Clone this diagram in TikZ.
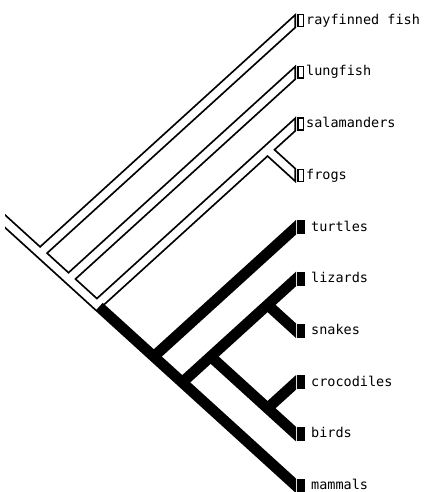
\documentclass[tikz,border=0pt]{standalone}
\usepackage{fontspec}
\newfontfamily\labelfont{DejaVu Sans Mono}
\begin{document}
\begin{tikzpicture}[x=1pt,y=-1pt,
  hout/.style={line width=11pt, black},
  hin/.style={line width=7.4pt, white},
  solidbr/.style={line width=10.8pt, black},
  hbox/.style={draw, line width=1.4pt, minimum width=5.4pt, minimum height=11.8pt, inner sep=0pt},
  fbox/.style={fill, minimum width=8pt, minimum height=14pt, inner sep=0pt},
  lab/.style={anchor=base west, inner sep=0pt, font=\labelfont\fontsize{13.5}{16}\selectfont}
]
\useasboundingbox (0,0) rectangle (431,492);
% tree nodes
\coordinate (st) at (0,216.7);
\coordinate (R) at (40.1,253.15);
\coordinate (A) at (68.5,279.0);
\coordinate (T) at (96.9,304.85);
\coordinate (Tb) at (99.1,306.85);
\coordinate (Am) at (267.56,149.75);
\coordinate (Amn) at (153.8,356.55);
\coordinate (X) at (182.25,382.4);
\coordinate (D) at (210.7,356.55);
\coordinate (L) at (267.56,304.85);
\coordinate (Ar) at (267.56,408.25);
% tips
\coordinate (t0) at (296,20.5);
\coordinate (t1) at (296,72.2);
\coordinate (t2) at (296,123.9);
\coordinate (t3) at (296,175.6);
\coordinate (t4) at (296,227.3);
\coordinate (t5) at (296,279.0);
\coordinate (t6) at (296,330.7);
\coordinate (t7) at (296,382.4);
\coordinate (t8) at (296,434.1);
\coordinate (t9) at (296,485.8);
% hollow branches: outline
\begin{scope}
\clip (5,0) rectangle (296,492);
\draw[hout] (st) -- (R) -- (A) -- (Tb);
\draw[hout, shorten >=-6pt] (R) -- (t0);
\draw[hout, shorten >=-6pt] (A) -- (t1);
\draw[hout, shorten >=-6pt] (T) -- (Am) -- (t2);
\draw[hout, shorten >=-6pt] (Am) -- (t3);
\end{scope}
% hollow branches: interior
\begin{scope}
\clip (5,0) rectangle (294.3,492);
\draw[hin] (st) -- (R) -- (A) -- (Tb);
\draw[hin, shorten >=-6pt] (R) -- (t0);
\draw[hin, shorten >=-6pt] (A) -- (t1);
\draw[hin, shorten >=-6pt] (T) -- (Am) -- (t2);
\draw[hin, shorten >=-6pt] (Am) -- (t3);
\end{scope}
% black branches
\begin{scope}
\clip (0,0) rectangle (296,492);
\draw[solidbr, shorten >=-6pt] (Tb) -- (Amn) -- (X) -- (t9);
\draw[solidbr, shorten >=-6pt] (Amn) -- (t4);
\draw[solidbr, shorten >=-6pt] (X) -- (D) -- (L) -- (t5);
\draw[solidbr, shorten >=-6pt] (L) -- (t6);
\draw[solidbr, shorten >=-6pt] (D) -- (Ar) -- (t8);
\draw[solidbr, shorten >=-6pt] (Ar) -- (t7);
\end{scope}
% tip boxes
\node[hbox] (b0) at (300.8,20.5) {};
\node[hbox] (b1) at (300.8,72.2) {};
\node[hbox] (b2) at (300.8,123.9) {};
\node[hbox] (b3) at (300.8,175.6) {};
\node[fbox] (b4) at (301,227.3) {};
\node[fbox] (b5) at (301,279.0) {};
\node[fbox] (b6) at (301,330.7) {};
\node[fbox] (b7) at (301,382.4) {};
\node[fbox] (b8) at (301,434.1) {};
\node[fbox] (b9) at (301,485.8) {};
% labels
\node[lab] (l0) at (306,24.3) {rayfinned fish};
\node[lab] (l1) at (306,76.0) {lungfish};
\node[lab] (l2) at (306,127.7) {salamanders};
\node[lab] (l3) at (306,179.4) {frogs};
\node[lab] (l4) at (311,231.1) {turtles};
\node[lab] (l5) at (311,282.8) {lizards};
\node[lab] (l6) at (311,334.5) {snakes};
\node[lab] (l7) at (311,386.2) {crocodiles};
\node[lab] (l8) at (311,437.9) {birds};
\node[lab] (l9) at (311,489.0) {mammals};
\end{tikzpicture}
\end{document}
